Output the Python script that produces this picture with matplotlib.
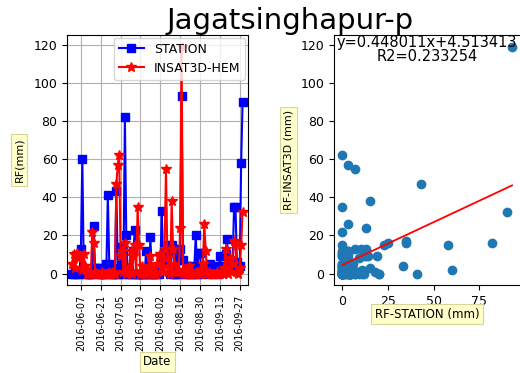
import numpy as np
import pandas as pd
import matplotlib
matplotlib.use('Agg')
import matplotlib.pyplot as plt

# daily rainfall (mm), 2016-06-01 .. 2016-09-29
dates = pd.date_range('2016-06-01', periods=121, freq='D')
station = [0, 0, 1, 0, 2, 0, 13, 60, 3, 0,
           1, 0, 0, 0, 0, 25, 3, 3, 3, 0,
           0, 0, 0, 0, 5, 41, 5, 0, 0, 0,
           0, 43, 3, 0, 14, 3, 0, 82, 20, 0,
           2, 0, 0, 12, 23, 0, 0, 0, 0, 0,
           0, 0, 12, 0, 0, 19, 0, 0, 0, 0,
           1, 0, 2, 33, 8, 7, 7, 9, 15, 0,
           15, 13, 0, 0, 0, 8, 13, 93, 7, 0,
           0, 4, 3, 0, 0, 0, 4, 20, 0, 11,
           11, 0, 3, 3, 3, 2, 0, 5, 4, 0,
           1, 4, 3, 0, 9, 4, 3, 2, 10, 18,
           7, 3, 4, 6, 35, 35, 6, 4, 4, 58,
           90]
insat = [5, 10, 3, 11, 8, 9, 9, 2, 10, 4,
         0, 1, 0, 0, 22, 16, 1, 0, 0, 0,
         0, 1, 0, 0, 0, 0, 1, 0, 1, 0,
         0, 47, 57, 62, 9, 12, 1, 16, 0, 3,
         1, 12, 0, 9, 15, 1, 35, 15, 0, 4,
         0, 2, 0, 1, 4, 9, 3, 0, 0, 0,
         5, 9, 10, 4, 1, 13, 55, 8, 3, 0,
         38, 13, 5, 1, 1, 1, 24, 119, 0, 2,
         0, 1, 4, 0, 1, 0, 0, 0, 1, 0,
         2, 0, 5, 26, 12, 0, 1, 0, 0, 0,
         0, 0, 1, 0, 0, 1, 0, 3, 13, 1,
         0, 8, 1, 5, 17, 16, 1, 0, 3, 15,
         32]
tick_dates = pd.date_range('2016-06-07', '2016-09-27', freq='14D')
slope = 0.448011
intercept = 4.513413
r2 = 0.233254

box = dict(boxstyle='square,pad=0.3', fc='#ffffcc', ec='#d9d49a', lw=0.8)

fig = plt.figure(figsize=(5.2, 3.73), dpi=100)
ax1 = fig.add_axes([0.1294, 0.236, 0.3469, 0.670])
ax2 = fig.add_axes([0.642, 0.236, 0.359, 0.670])

ax1.plot(dates, station, 'b-s', markersize=6, linewidth=1.5, label='STATION')
ax1.plot(dates, insat, 'r-*', markersize=7, linewidth=1.5, label='INSAT3D-HEM')
ax1.set_xticks(tick_dates)
ax1.set_xticklabels([d.strftime('%Y-%m-%d') for d in tick_dates], rotation=90, fontsize=7)
ax1.margins(x=0.03)
ax1.set_ylim(-6, 125)
ax1.tick_params(axis='y', labelsize=9)
ax1.grid(True, color='#b0b0b0', linewidth=0.8)
ax1.legend(loc='upper right', fontsize=9, borderaxespad=0.2, handlelength=2)
ax1.set_ylabel('RF(mm)', fontsize=8, bbox=box, labelpad=7)
ax1.set_xlabel('Date', fontsize=8.5, bbox=box, labelpad=3)

ax2.scatter(station, insat, s=36, color='#1f77b4')
xs = np.array([min(station), max(station)])
ax2.plot(xs, slope * xs + intercept, 'r-', linewidth=1.3)
ax2.set_xlim(-4.65, 97.65)
ax2.set_ylim(-6, 125)
ax2.set_xticks([0, 25, 50, 75])
ax2.tick_params(labelsize=9)
ax2.set_ylabel('RF-INSAT3D (mm)', fontsize=8, bbox=box, labelpad=5)
ax2.set_xlabel('RF-STATION (mm)', fontsize=8.5, bbox=box, labelpad=0)
ax2.text(46.5, 117.5, 'y=%fx+%f\nR2=%f' % (slope, intercept, r2),
         ha='center', va='center', fontsize=10.5, linespacing=0.95)

fig.suptitle('Jagatsinghapur-p', fontsize=21, x=0.557, y=0.98)
fig.savefig('out.png', dpi=100)
